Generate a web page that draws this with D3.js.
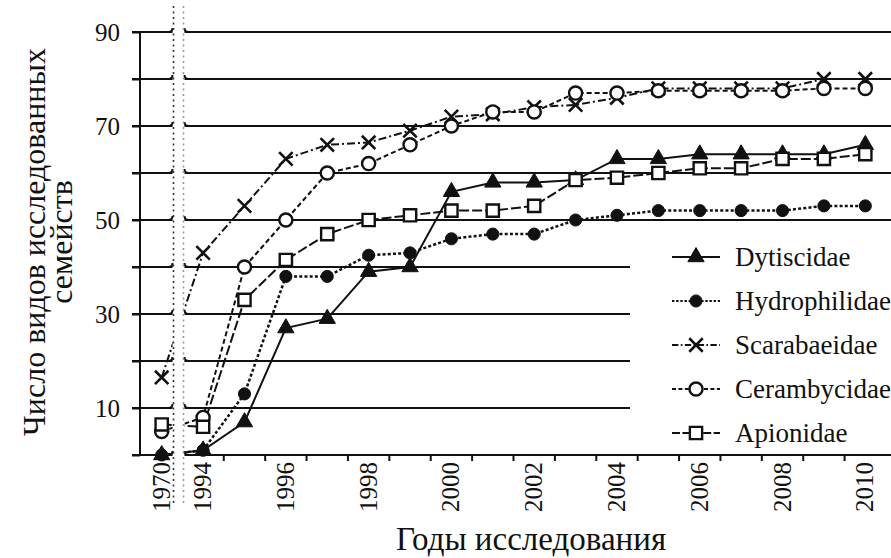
<!DOCTYPE html>
<html>
<head>
<meta charset="utf-8">
<script src="https://cdn.jsdelivr.net/npm/d3@7"></script>
<style>
	body { margin: 0; background: #fff; }
	svg { display: block; }
</style>
</head>
<body>
<div id="chart"></div>
<script>
// ---- data ---- //
var years = ["1970", "1994", "1995", "1996", "1997", "1998", "1999", "2000", "2001",
	"2002", "2003", "2004", "2005", "2006", "2007", "2008", "2009", "2010"];
var yearLabels = ["1970", "1994", "1996", "1998", "2000", "2002", "2004", "2006", "2008", "2010"];

var dytiscidae    = [0, 1, 7, 27, 29, 39, 40, 56, 58, 58, 58.5, 63, 63, 64, 64, 64, 64, 66];
var hydrophilidae = [0, 1, 13, 38, 38, 42.5, 43, 46, 47, 47, 50, 51, 52, 52, 52, 52, 53, 53];
var scarabaeidae  = [16.5, 43, 53, 63, 66, 66.5, 69, 72, 72.5, 74, 74.5, 76, 78, 78, 78, 78, 80, 80];
var cerambycidae  = [5, 8, 40, 50, 60, 62, 66, 70, 73, 73, 77, 77, 77.5, 77.5, 77.5, 77.5, 78, 78];
var apionidae     = [6.5, 6, 33, 41.5, 47, 50, 51, 52, 52, 53, 58.5, 59, 60, 61, 61, 63, 63, 64];

var seriesNames = ["Dytiscidae", "Hydrophilidae", "Scarabaeidae", "Cerambycidae", "Apionidae"];
var gridValues = [10, 20, 30, 40, 50, 60, 70, 80, 90];
var yLabelValues = [10, 30, 50, 70, 90];

var W = 891, H = 558;
var FONT = "'Liberation Serif', 'Times New Roman', Tinos, 'DejaVu Serif', serif";

var series = [
	{name: seriesNames[0], values: dytiscidae,    dash: null,      symbol: d3.symbolTriangle, size: 115, open: false},
	{name: seriesNames[1], values: hydrophilidae, dash: "3,2.2",   symbol: d3.symbolCircle,   size: 115, open: false},
	{name: seriesNames[2], values: scarabaeidae,  dash: "8,3,2,3", symbol: d3.symbolTimes,    size: 120, open: false, stroke: true},
	{name: seriesNames[3], values: cerambycidae,  dash: "5,3",     symbol: d3.symbolCircle,   size: 135, open: true},
	{name: seriesNames[4], values: apionidae,     dash: "10,3",    symbol: d3.symbolSquare,   size: 150, open: true}
];

var svg = d3.select("#chart").append("svg")
	.attr("width", W)
	.attr("height", H)
	.attr("font-family", FONT);

var x = d3.scaleBand().domain(years).range([141, 886]);
var y = d3.scaleLinear().domain([0, 90]).range([455, 32]);
var half = x.bandwidth() / 2;
function cx(yr) { return x(yr) + half; }

// gridlines: upper ones run to the edge, lower ones stop before the legend
svg.append("g").attr("class", "grid")
	.selectAll("line")
	.data(gridValues)
	.enter().append("line")
	.attr("x1", 132)
	.attr("x2", function(d) { return d >= 50 ? W : 630; })
	.attr("y1", function(d) { return y(d); })
	.attr("y2", function(d) { return y(d); })
	.attr("stroke", "#111")
	.attr("stroke-width", 2);

// y axis
var yAxis = d3.axisLeft(y)
	.tickValues([0].concat(gridValues))
	.tickSize(8)
	.tickPadding(12)
	.tickFormat(function(d) { return yLabelValues.indexOf(d) >= 0 ? d : ""; });

var gy = svg.append("g")
	.attr("transform", "translate(140,0)")
	.call(yAxis)
	.attr("font-family", FONT)
	.attr("font-size", 25);
gy.select(".domain").remove();
gy.selectAll(".tick line").attr("stroke", "#111").attr("stroke-width", 2);
gy.selectAll(".tick text").attr("fill", "#111");
gy.append("line")
	.attr("x1", 0).attr("x2", 0)
	.attr("y1", y(90)).attr("y2", y(0))
	.attr("stroke", "#111").attr("stroke-width", 2);

// x axis: line, ticks at band edges, rotated labels at band centres
var gx = svg.append("g").attr("class", "xaxis");
gx.append("line")
	.attr("x1", 132).attr("x2", W)
	.attr("y1", y(0)).attr("y2", y(0))
	.attr("stroke", "#111").attr("stroke-width", 2);
gx.selectAll(".xtick")
	.data(years.slice(2))
	.enter().append("line")
	.attr("class", "xtick")
	.attr("x1", function(d) { return x(d); })
	.attr("x2", function(d) { return x(d); })
	.attr("y1", y(0))
	.attr("y2", y(0) + 6)
	.attr("stroke", "#111").attr("stroke-width", 2);
gx.selectAll(".xlabel")
	.data(yearLabels)
	.enter().append("text")
	.attr("class", "xlabel")
	.attr("transform", function(d) { return "translate(" + (cx(d) + 8) + "," + (y(0) + 7) + ") rotate(-90)"; })
	.attr("text-anchor", "end")
	.attr("font-size", 25)
	.attr("fill", "#111")
	.text(function(d) { return d; });

// series lines
var line = d3.line()
	.x(function(d, i) { return cx(years[i]); })
	.y(function(d) { return y(d); });

svg.append("g").selectAll("path")
	.data(series)
	.enter().append("path")
	.attr("d", function(s) { return line(s.values); })
	.attr("fill", "none")
	.attr("stroke", "#111")
	.attr("stroke-width", function(s) { return s.name === "Hydrophilidae" ? 2.5 : 2; })
	.attr("stroke-dasharray", function(s) { return s.dash; });

// markers
function drawMarker(sel, s) {
	sel.append("path")
		.attr("d", d3.symbol().type(s.symbol).size(s.size))
		.attr("fill", s.stroke ? "none" : (s.open ? "#fff" : "#111"))
		.attr("stroke", "#111")
		.attr("stroke-width", s.stroke ? 2.6 : (s.open ? 2.4 : 1));
}

series.forEach(function(s) {
	var pts = svg.append("g").selectAll("g")
		.data(s.values)
		.enter().append("g")
		.attr("transform", function(d, i) { return "translate(" + cx(years[i]) + "," + y(d) + ")"; });
	pts.each(function() { drawMarker(d3.select(this), s); });
});

// axis break between 1970 and 1994
var breakL = 173.5, breakR = 183.5;
svg.append("rect")
	.attr("x", breakL - 1).attr("y", 20)
	.attr("width", breakR - breakL + 2).attr("height", y(0) + 4 - 20)
	.attr("fill", "#fff");

// small hooks where the gridlines are cut
var hooks = svg.append("g").attr("fill", "none").attr("stroke", "#111").attr("stroke-width", 2);
hooks.selectAll(".hl")
	.data([0].concat(gridValues))
	.enter().append("path")
	.attr("d", function(d) {
		var yy = y(d);
		return "M" + (breakL - 5) + "," + yy + " Q" + (breakL - 1) + "," + yy + " " + (breakL - 1) + "," + (yy - 4);
	});
hooks.selectAll(".hr")
	.data([0].concat(gridValues))
	.enter().append("path")
	.attr("d", function(d) {
		var yy = y(d);
		return "M" + (breakR + 5) + "," + yy + " Q" + (breakR + 1) + "," + yy + " " + (breakR + 1) + "," + (yy - 4);
	});

svg.append("line")
	.attr("x1", breakL).attr("x2", breakL)
	.attr("y1", 6).attr("y2", 505)
	.attr("stroke", "#333").attr("stroke-width", 1.6)
	.attr("stroke-dasharray", "2,3.5");
svg.append("line")
	.attr("x1", breakR).attr("x2", breakR)
	.attr("y1", 6).attr("y2", 505)
	.attr("stroke", "#999").attr("stroke-width", 1.6)
	.attr("stroke-dasharray", "2,3.5");

// legend
var legend = svg.append("g")
	.attr("transform", "translate(672,257)")
	.selectAll("g")
	.data(series)
	.enter().append("g")
	.attr("transform", function(d, i) { return "translate(0," + (i * 44) + ")"; });

legend.append("line")
	.attr("x1", 0).attr("x2", 48)
	.attr("stroke", "#111").attr("stroke-width", 2)
	.attr("stroke-dasharray", function(s) { return s.dash ? s.dash.split(",").map(function(v) { return v * 0.8; }).join(",") : null; });
legend.each(function(s) {
	var m = d3.select(this).append("g").attr("transform", "translate(24,0)");
	drawMarker(m, s);
});
legend.append("text")
	.attr("x", 63)
	.attr("dy", "0.33em")
	.attr("font-size", 27)
	.attr("fill", "#111")
	.text(function(s) { return s.name; });

// axis titles
svg.append("text")
	.attr("x", 531).attr("y", 550)
	.attr("text-anchor", "middle")
	.attr("font-size", 33)
	.attr("fill", "#111")
	.text("Годы исследования");

var yTitle = svg.append("text")
	.attr("transform", "translate(45,242) rotate(-90)")
	.attr("text-anchor", "middle")
	.attr("font-size", 32)
	.attr("fill", "#111");
yTitle.append("tspan").attr("x", 0).attr("y", 0).text("Число видов исследованных");
yTitle.append("tspan").attr("x", 0).attr("y", 27).text("семейств");
</script>
</body>
</html>
